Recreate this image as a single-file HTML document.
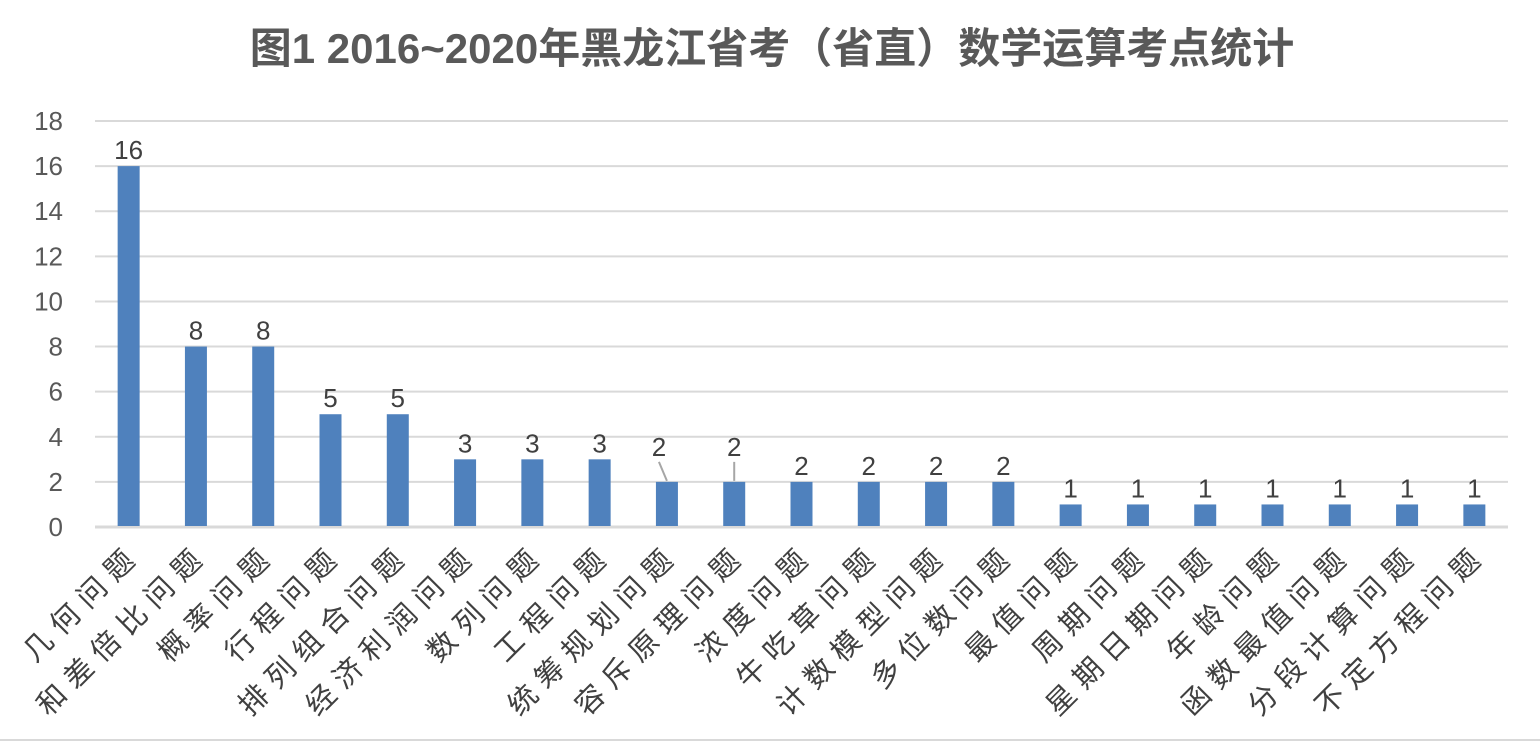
<!DOCTYPE html>
<html><head><meta charset="utf-8"><style>
body{margin:0;background:#fff;}
svg{display:block;font-family:"Liberation Sans","Noto Sans CJK SC",sans-serif;}
</style></head><body>
<svg id="chart" width="1540" height="742" viewBox="0 0 1540 742">
<text x="772" y="63" text-anchor="middle" font-size="42" font-weight="bold" fill="#595959">图1  2016~2020年黑龙江省考（省直）数学运算考点统计</text>
<g id="grid"></g><g id="bars"></g><g id="labels"></g>
<line x1="0" y1="740" x2="1540" y2="740" stroke="#d9d9d9" stroke-width="2"/>
</svg>
<script>
const categories=["几何问题","和差倍比问题","概率问题","行程问题","排列组合问题","经济利润问题","数列问题","工程问题","统筹规划问题","容斥原理问题","浓度问题","牛吃草问题","计数模型问题","多位数问题","最值问题","周期问题","星期日期问题","年龄问题","函数最值问题","分段计算问题","不定方程问题"];
const values=[16,8,8,5,5,3,3,3,2,2,2,2,2,2,1,1,1,1,1,1,1];
const yTicks=[0,2,4,6,8,10,12,14,16,18];
const NS="http://www.w3.org/2000/svg";
const x0=95,x1=1508,yZero=527,yTop=121,yMax=18;
const step=(x1-x0)/categories.length;
const y=v=>yZero-(v/yMax)*(yZero-yTop);
const xc=i=>x0+step*(i+0.5);
function mk(tag,attrs,parent){const e=document.createElementNS(NS,tag);for(const k in attrs)e.setAttribute(k,attrs[k]);parent.appendChild(e);return e;}
const grid=document.getElementById('grid'),bars=document.getElementById('bars'),labels=document.getElementById('labels');
yTicks.forEach(t=>{
 const l=mk('line',{x1:x0,x2:x1,y1:y(t),y2:y(t),stroke:'#d9d9d9','stroke-width':t===0?3:2},grid);
 
 
 const tx=mk('text',{x:63,y:y(t)+9,'text-anchor':'end','font-size':26,fill:'#595959'},grid);
 tx.textContent=t;
 
 
});
categories.forEach((c,i)=>{
 const v=values[i],cx=xc(i),bw=22;
 const r=mk('rect',{x:cx-bw/2,y:y(v),width:bw,height:yZero-y(v)-1,fill:'#4f81bd'},bars);
 
 
 let ly=y(v)-7, lx=cx;
 if(i===8||i===9){ly=y(v)-22; lx=i===8?cx-8:cx;
  const ll=mk('line',{x1:lx,y1:ly+2,x2:cx,y2:y(v)-1,stroke:'#a6a6a6','stroke-width':2},labels);
  
  
  ly-=4;}
 const vt=mk('text',{x:lx,y:ly,'text-anchor':'middle','font-size':26,fill:'#404040'},labels);
 vt.textContent=v;
 
 
 const ct=mk('text',{x:0,y:0,'text-anchor':'end','font-size':29,'letter-spacing':9,fill:'#404040',transform:`translate(${cx+14},${556}) rotate(-45)`},labels);
 ct.textContent=c;
 
 
});
</script>
</body></html>
